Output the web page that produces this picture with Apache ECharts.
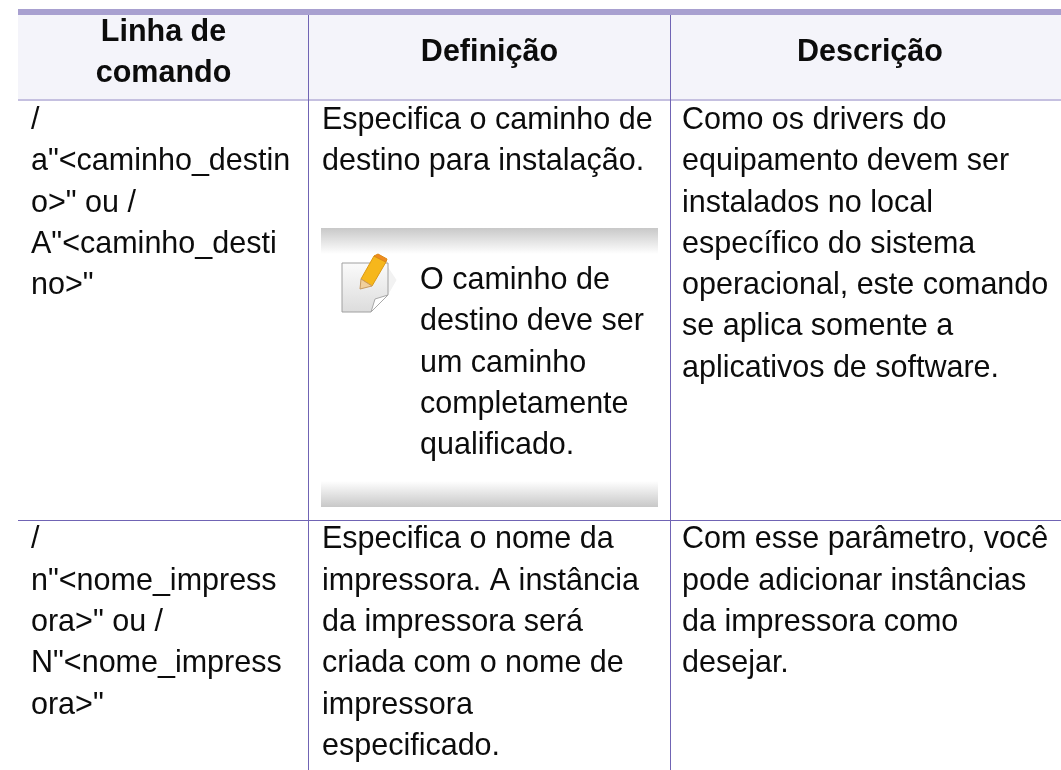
<!DOCTYPE html>
<html>
<head>
<meta charset="UTF-8">
<title>Linha de comando</title>
<script src="https://cdn.jsdelivr.net/npm/echarts@6/dist/echarts.min.js"></script>
<style>
html, body { margin: 0; padding: 0; background: #fff; }
#main { width: 1061px; height: 770px; }
</style>
</head>
<body>
<div id="main"></div>
<script type="text/javascript">
// table text, one entry per printed line
var headCommand = ['Linha de', 'comando'];
var headDefinition = ['Definição'];
var headDescription = ['Descrição'];

var row1Command = ['/', 'a"<caminho_destin', 'o>" ou /', 'A"<caminho_desti', 'no>"'];
var row1Definition = ['Especifica o caminho de', 'destino para instalação.'];
var row1Note = ['O caminho de', 'destino deve ser', 'um caminho', 'completamente', 'qualificado.'];
var row1Description = ['Como os drivers do', 'equipamento devem ser', 'instalados no local', 'específico do sistema', 'operacional, este comando', 'se aplica somente a', 'aplicativos de software.'];

var row2Command = ['/', 'n"<nome_impress', 'ora>" ou /', 'N"<nome_impress', 'ora>"'];
var row2Definition = ['Especifica o nome da', 'impressora. A instância', 'da impressora será', 'criada com o nome de', 'impressora', 'especificado.'];
var row2Description = ['Com esse parâmetro, você', 'pode adicionar instâncias', 'da impressora como', 'desejar.'];

// layout, in page pixels: the hidden axes map 1:1 to the canvas
var W = 1061, H = 770;
var LINE = 41.3;
var TXT = '#0c0c0c';

// y0 is the vertical middle of the first line
function textBlock(lines, x, y0, bold, center) {
    return lines.map(function (s, i) {
        return {value: [x, y0 + i * LINE], text: s, bold: bold, center: center};
    });
}

var texts = [].concat(
    textBlock(headCommand, 163.5, 32.5, true, true),
    textBlock(headDefinition, 489.5, 53, true, true),
    textBlock(headDescription, 870, 53, true, true),
    textBlock(row1Command, 31, 120.5, false, false),
    textBlock(row1Definition, 322, 120.5, false, false),
    textBlock(row1Note, 420, 280.5, false, false),
    textBlock(row1Description, 682, 120.5, false, false),
    textBlock(row2Command, 31, 540, false, false),
    textBlock(row2Definition, 322, 540, false, false),
    textBlock(row2Description, 682, 540, false, false)
);

var myChart = echarts.init(document.getElementById('main'), null, {renderer: 'canvas'});

function grayFade(topColor, bottomColor) {
    return new echarts.graphic.LinearGradient(0, 0, 0, 1, [
        {offset: 0, color: topColor},
        {offset: 1, color: bottomColor}
    ]);
}

// rectangles and rules of the table
var rects = [
    {value: [18, 15, W, 99], fill: '#f4f4fa'},
    {value: [18, 9, W, 15], fill: '#a8a0d0'},
    {value: [18, 99, W, 101], fill: '#c5c0e0'},
    {value: [308, 15, 309, H], fill: '#7064b4'},
    {value: [670, 15, 671, H], fill: '#7064b4'},
    {value: [18, 520, W, 521], fill: '#7064b4'},
    {value: [321, 228, 658, 254], fill: grayFade('#c8c8c8', '#ffffff')},
    {value: [321, 481, 658, 507], fill: grayFade('#ffffff', '#c8c8c8')}
];

// note icon: sheet with folded corner and a pencil
var iconPolys = [
    {points: [[388, 268], [396, 280], [388, 294]], fill: '#f2f2f2', stroke: '#f2f2f2'},
    {points: [[342, 263], [388, 263], [388, 295], [371, 312], [342, 312]], fill: grayFade('#fbfbfb', '#dcdcdc'), stroke: '#a0a0a0'},
    {points: [[371, 312], [375, 299], [388, 295]], fill: '#ffffff', stroke: '#a8a8a8'},
    {points: [[374, 256], [386, 262], [372, 286], [361, 279]], fill: '#f6b71c', stroke: '#dc9a14'},
    {points: [[361, 279], [372, 286], [360, 289]], fill: '#f0cf9c', stroke: '#c89a60'},
    {points: [[374, 256], [378, 254], [387, 259], [386, 262]], fill: '#f08a20', stroke: '#dc8a14'}
];

function renderRect(params, api) {
    var item = rects[params.dataIndex];
    var a = api.coord([item.value[0], item.value[1]]);
    var b = api.coord([item.value[2], item.value[3]]);
    return {
        type: 'rect',
        shape: {x: a[0], y: a[1], width: b[0] - a[0], height: b[1] - a[1]},
        style: {fill: item.fill}
    };
}

function renderPoly(params, api) {
    var item = iconPolys[params.dataIndex];
    return {
        type: 'polygon',
        shape: {points: item.points.map(function (p) { return api.coord(p); })},
        style: {fill: item.fill, stroke: item.stroke, lineWidth: 1}
    };
}

function renderText(params, api) {
    var item = texts[params.dataIndex];
    var p = api.coord(item.value);
    return {
        type: 'text',
        x: p[0],
        y: p[1],
        style: {
            text: item.text,
            fill: TXT,
            fontFamily: 'Liberation Sans',
            fontSize: 30.5,
            fontWeight: item.bold ? 'bold' : 'normal',
            align: item.center ? 'center' : 'left',
            verticalAlign: 'middle'
        }
    };
}

var option = {
    animation: false,
    backgroundColor: '#ffffff',
    grid: {left: 0, right: 0, top: 0, bottom: 0},
    xAxis: {type: 'value', min: 0, max: W, show: false},
    yAxis: {type: 'value', min: 0, max: H, inverse: true, show: false},
    tooltip: {show: false},
    series: [
        {type: 'custom', renderItem: renderRect, data: rects, silent: true, clip: false},
        {type: 'custom', renderItem: renderPoly, data: iconPolys.map(function (p) { return {value: p.points[0]}; }), silent: true, clip: false},
        {type: 'custom', renderItem: renderText, data: texts, silent: true, clip: false}
    ]
};

myChart.setOption(option);
</script>
</body>
</html>
